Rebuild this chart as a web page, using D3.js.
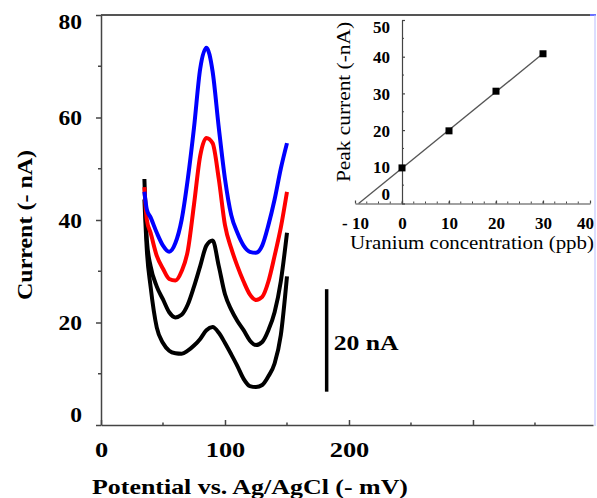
<!DOCTYPE html>
<html>
<head>
<meta charset="utf-8">
<script src="https://cdn.jsdelivr.net/npm/d3@7"></script>
<style>
  body { margin: 0; background: #fff; }
  svg { display: block; }
  text { font-family: "Liberation Serif", "Times New Roman", serif; }
</style>
</head>
<body>
<script>
var WIDTH = 597;
var HEIGHT = 498;

// voltammograms (potential in -mV, current in -nA)
var potential = [35,37,40,45,50,55,60,65,70,75,80,85,90,95,100,105,110,115,120,125,130,135,140,145,150];
var blank   = [44,34,27,19,16,14.5,14,13.9,14.5,15.5,16.8,18.5,19.1,18,16,13.8,11.5,9,7.6,7.4,7.8,9.5,12,17.5,29];
var add10   = [48,36,31,27,24.5,22,21,21.5,23.5,27,31,35,36,31,25.5,22.5,20.3,18.5,16.5,15.6,16.2,18.5,22,28,37.5];
var add20   = [46.4,40,37.5,33,30.5,28.5,28.2,30,34,43,52.5,56,55,48,39,34.5,31,28,25.5,24.4,25,28,33,38.5,45.5];
var add30   = [45.5,42,40.5,37.5,35,33.8,35.5,40,48,58,69.5,73.6,69,58,48,41,37.5,35,33.8,33.6,35,39,44,50,55];
var seriesColors = ["#000", "#000", "#ff0000", "#0000ff"];

var xTicks = [0,100,200,300];
var xMinor = [50,150,250,350];
var yTicks = [0,20,40,60,80];
var yMinor = [10,30,50,70];

// calibration inset
var conc = [0,10,20,30];
var peak = [9.7,19.8,30.6,40.8];
var insetXTicks = [-10,0,10,20,30,40];
var insetYTicks = [0,10,20,30,40,50];

var translate = function (x,y) {
  return "translate("+x+","+y+")";
}

// widen glyphs a little, the source figure is stretched horizontally
var stretch = function (sel, f) {
  sel.each(function () {
    var w = this.getComputedTextLength();
    if (w > 0) d3.select(this).attr('textLength', w * f).attr('lengthAdjust', 'spacingAndGlyphs');
  });
}

var svg = d3.select('body').append('svg')
  .attr('width', WIDTH)
  .attr('height', HEIGHT);

var xScale = d3.scaleLinear().domain([0, 396.8]).range([101, 593]);
var yScale = d3.scaleLinear().domain([0, 80]).range([425, 15]);

var styleAxis = function (g, size) {
  g.attr('font-family', '"Liberation Serif", serif')
   .attr('font-size', size)
   .attr('font-weight', 'bold');
  g.selectAll('path, line').attr('stroke', '#444').attr('stroke-width', 1.5);
  g.selectAll('text').attr('fill', '#000');
}

// frame top and right edge
svg.append('line')
  .attr('x1', 101).attr('x2', 590).attr('y1', 15).attr('y2', 15)
  .attr('stroke', '#555').attr('stroke-width', 2);
svg.append('line')
  .attr('x1', 590).attr('x2', 596).attr('y1', 15).attr('y2', 15)
  .attr('stroke', '#6a70ff').attr('stroke-width', 2);
svg.append('line')
  .attr('x1', 595).attr('x2', 595).attr('y1', 15).attr('y2', 426)
  .attr('stroke', '#b8bcff').attr('stroke-width', 1);

// main axes
var gx = svg.append('g')
  .attr('transform', translate(0, 425))
  .call(d3.axisBottom(xScale).tickValues(xTicks).tickSize(-5).tickSizeOuter(0).tickPadding(16)
    .tickFormat(function (d) { return d === 300 ? '' : d; }));
styleAxis(gx, 22);
stretch(gx.selectAll('.tick text'), 1.2);
gx.append('g').selectAll('line').data(xMinor).enter().append('line')
  .attr('x1', xScale).attr('x2', xScale).attr('y1', 0).attr('y2', -2.5)
  .attr('stroke', '#444').attr('stroke-width', 1.5);

var gy = svg.append('g')
  .attr('transform', translate(101, 0))
  .call(d3.axisLeft(yScale).tickValues(yTicks).tickSize(5).tickSizeOuter(0).tickPadding(14));
styleAxis(gy, 21);
gy.selectAll('.tick text').attr('dy', function (d) {
  return d === 80 ? '0.65em' : (d === 0 ? '-0.15em' : '0.35em');
});
stretch(gy.selectAll('.tick text'), 1.12);
gy.append('g').selectAll('line').data(yMinor).enter().append('line')
  .attr('y1', yScale).attr('y2', yScale).attr('x1', 0).attr('x2', -3)
  .attr('stroke', '#444').attr('stroke-width', 1.5);

// voltammograms
var line = d3.line()
  .curve(d3.curveMonotoneX)
  .x(function (d, i) { return xScale(potential[i]); })
  .y(function (d) { return yScale(d); });

[blank, add10, add20, add30].forEach(function (s, k) {
  svg.append('path')
    .attr('d', line(s))
    .attr('fill', 'none')
    .attr('stroke', seriesColors[k])
    .attr('stroke-width', 4)
    .attr('stroke-linejoin', 'round');
});

// scale bar
svg.append('line')
  .attr('x1', xScale(182)).attr('x2', xScale(182))
  .attr('y1', yScale(26.5)).attr('y2', yScale(6.5))
  .attr('stroke', '#000').attr('stroke-width', 3.5);
svg.append('text')
  .attr('x', xScale(182) + 7).attr('y', 350)
  .attr('font-size', 21).attr('font-weight', 'bold')
  .attr('textLength', 65).attr('lengthAdjust', 'spacingAndGlyphs')
  .text('20 nA');

// axis titles
svg.append('text')
  .attr('x', 92).attr('y', 494)
  .attr('font-size', 22).attr('font-weight', 'bold')
  .attr('textLength', 316).attr('lengthAdjust', 'spacingAndGlyphs')
  .text('Potential vs. Ag/AgCl (- mV)');
svg.append('text')
  .attr('transform', translate(32, 300) + ' rotate(-90)')
  .attr('font-size', 22).attr('font-weight', 'bold')
  .attr('textLength', 150).attr('lengthAdjust', 'spacingAndGlyphs')
  .text('Current (- nA)');

// inset
var ix = d3.scaleLinear().domain([-10, 40]).range([355, 590]);
var iy = d3.scaleLinear().domain([0, 50]).range([203.5, 20]);

var gix = svg.append('g')
  .attr('transform', translate(0, 203.5))
  .call(d3.axisBottom(ix).tickValues(insetXTicks).tickSize(-3).tickSizeOuter(0).tickPadding(13)
    .tickFormat(function (d) { return d < 0 ? '- ' + Math.abs(d) : d; }));
styleAxis(gix, 17);
gix.selectAll('path, line').attr('stroke-width', 1.2);
gix.selectAll('.tick text').attr('dx', function (d) { return d === 40 ? -5 : 0; });
gix.append('g').selectAll('line').data(d3.range(-7.5, 40, 2.5)).enter().append('line')
  .attr('x1', ix).attr('x2', ix).attr('y1', 0).attr('y2', -2)
  .attr('stroke', '#444').attr('stroke-width', 1);

var giy = svg.append('g')
  .attr('transform', translate(ix(0), 0))
  .call(d3.axisLeft(iy).tickValues(insetYTicks).tickSize(-3).tickSizeOuter(0).tickPadding(12));
styleAxis(giy, 17);
giy.selectAll('path, line').attr('stroke-width', 1.2);
giy.selectAll('.tick text').attr('dy', function (d) {
  return d === 50 ? '0.75em' : (d === 0 ? '-0.25em' : '0.35em');
});
giy.append('g').selectAll('line').data([5,15,25,35,45]).enter().append('line')
  .attr('y1', iy).attr('y2', iy).attr('x1', 0).attr('x2', 2)
  .attr('stroke', '#444').attr('stroke-width', 1);

// least squares fit through calibration points
var mx = d3.mean(conc), my = d3.mean(peak);
var slope = d3.sum(conc, function (c, i) { return (c - mx) * (peak[i] - my); }) /
            d3.sum(conc, function (c) { return (c - mx) * (c - mx); });
var icpt = my - slope * mx;
var fitX = [-icpt / slope, d3.max(conc)];
svg.append('path')
  .attr('d', d3.line().x(function (d) { return ix(d); }).y(function (d) { return iy(icpt + slope * d); })(fitX))
  .attr('fill', 'none').attr('stroke', '#555').attr('stroke-width', 1.3);

svg.append('g').selectAll('rect').data(conc).enter().append('rect')
  .attr('x', function (d) { return ix(d) - 3.5; })
  .attr('y', function (d, i) { return iy(peak[i]) - 3.5; })
  .attr('width', 7).attr('height', 7)
  .attr('fill', '#000');

svg.append('text')
  .attr('x', 350).attr('y', 249)
  .attr('font-size', 18)
  .attr('textLength', 244).attr('lengthAdjust', 'spacingAndGlyphs')
  .text('Uranium concentration (ppb)');
svg.append('text')
  .attr('transform', translate(350, 182) + ' rotate(-90)')
  .attr('font-size', 18)
  .attr('textLength', 160).attr('lengthAdjust', 'spacingAndGlyphs')
  .text('Peak current (-nA)');
</script>
</body>
</html>
